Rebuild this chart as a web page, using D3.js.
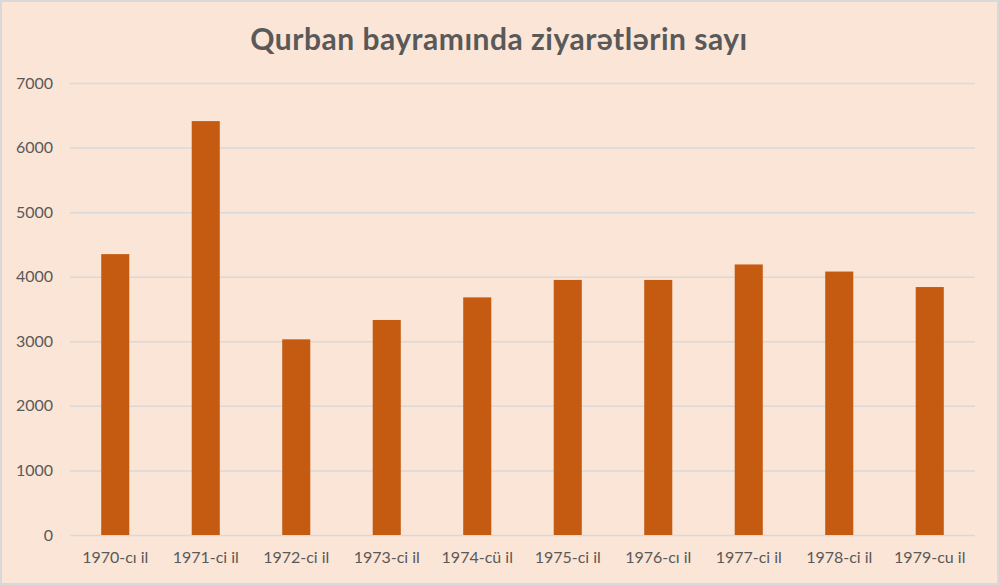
<!DOCTYPE html>
<meta charset="utf-8">
<style>
	body {
	  margin: 0;
	  font-family: Lato, "Open Sans", sans-serif;
	}
	svg { display: block; }
</style>
<body>
<script src="https://d3js.org/d3.v7.min.js"></script>
<script>

	var years = ["1970-cı il", "1971-ci il", "1972-ci il", "1973-ci il", "1974-cü il",
		"1975-ci il", "1976-cı il", "1977-ci il", "1978-ci il", "1979-cu il"];
	var visits = [4350, 6410, 3030, 3330, 3680, 3950, 3950, 4190, 4080, 3840];
	var yTicks = [0, 1000, 2000, 3000, 4000, 5000, 6000, 7000];
	var title = "Qurban bayramında ziyarətlərin sayı";

	var W = 999, H = 585;
	var margin = {top: 83, right: 24, bottom: 50, left: 70},
		width = W - margin.left - margin.right,
		height = H - margin.top - margin.bottom;

	var svg = d3.select("body").append("svg")
		.attr("width", W)
		.attr("height", H);

	// background + frame
	svg.append("rect")
		.attr("x", 1).attr("y", 1)
		.attr("width", W - 2).attr("height", H - 2)
		.attr("fill", "#fbe5d6")
		.attr("stroke", "#d9d9d9")
		.attr("stroke-width", 2);

	var g = svg.append("g")
		.attr("transform", "translate(" + margin.left + "," + margin.top + ")");

	var x = d3.scaleBand()
		.domain(years)
		.range([0, width])
		.paddingInner(0.69)
		.paddingOuter(0.345);

	var y = d3.scaleLinear()
		.domain([0, 7000])
		.range([height, 0]);

	// gridlines
	g.append("g")
		.attr("class", "grid")
		.call(d3.axisLeft(y).tickValues(yTicks).tickSize(-width).tickFormat(""))
		.call(function(s) {
			s.select(".domain").remove();
			s.selectAll("line").attr("stroke", "#d9d9d9").attr("stroke-width", 1.5);
		});

	// y axis labels
	g.append("g")
		.attr("class", "y axis")
		.call(d3.axisLeft(y).tickValues(yTicks).tickSize(0).tickPadding(17).tickFormat(d3.format("d")))
		.call(function(s) {
			s.select(".domain").remove();
			s.selectAll("text")
				.attr("fill", "#595959")
				.style("font-family", "Lato, sans-serif")
				.style("font-size", "16px");
		});

	g.selectAll(".bar")
		.data(visits)
		.enter().append("rect")
		.attr("class", "bar")
		.attr("x", function(d, i) { return x(years[i]); })
		.attr("width", x.bandwidth())
		.attr("y", function(d) { return y(d); })
		.attr("height", function(d) { return height - y(d); })
		.attr("fill", "#c55a11");

	// x axis labels
	g.append("g")
		.attr("class", "x axis")
		.attr("transform", "translate(0," + height + ")")
		.call(d3.axisBottom(x).tickSize(0).tickPadding(17))
		.call(function(s) {
			s.select(".domain").remove();
			s.selectAll("text")
				.attr("fill", "#595959")
				.style("font-family", "Lato, sans-serif")
				.style("font-size", "16px");
		});

	svg.append("text")
		.attr("x", 499)
		.attr("y", 50)
		.attr("text-anchor", "middle")
		.style("font-family", "Lato, sans-serif")
		.style("font-weight", "bold")
		.style("font-size", "30px")
		.style("letter-spacing", "0.5px")
		.attr("fill", "#595959")
		.text(title);
</script>
</body>
